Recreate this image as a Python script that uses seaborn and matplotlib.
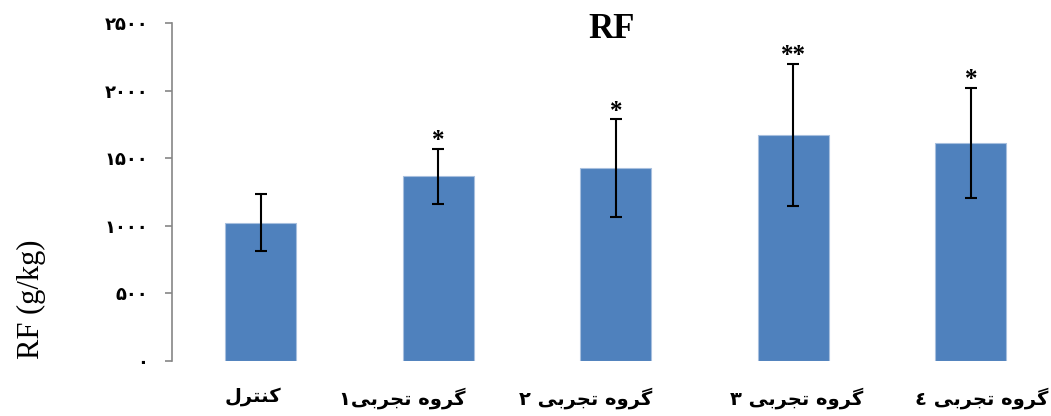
import matplotlib
matplotlib.use("Agg")

import pandas as pd
import matplotlib.pyplot as plt
import matplotlib.transforms as mtransforms
import seaborn as sns

# values
groups = ["کنترل", "گروه تجربی۱", "گروه تجربی ۲", "گروه تجربی ۳", "گروه تجربی ٤"]
rf_mean = [1022, 1366, 1427, 1672, 1613]
rf_sd = [211, 205, 361, 526, 408]
stars = ["", "*", "*", "**", "*"]
yticks = [0, 500, 1000, 1500, 2000, 2500]

# small offsets (pixels) of the category labels, as in the original
label_shift = [-8, -36, -30, 3, 11]

# --- minimal Persian shaping (matplotlib has no complex text layout) ---
FORMS = {  # isolated, final, initial, medial
    "ک": ("\uFB8E", "\uFB8F", "\uFB90", "\uFB91"),
    "گ": ("\uFB92", "\uFB93", "\uFB94", "\uFB95"),
    "ی": ("\uFBFC", "\uFBFD", "\uFBFE", "\uFBFF"),
    "ن": ("\uFEE5", "\uFEE6", "\uFEE7", "\uFEE8"),
    "ت": ("\uFE95", "\uFE96", "\uFE97", "\uFE98"),
    "ل": ("\uFEDD", "\uFEDE", "\uFEDF", "\uFEE0"),
    "ه": ("\uFEE9", "\uFEEA", "\uFEEB", "\uFEEC"),
    "ج": ("\uFE9D", "\uFE9E", "\uFE9F", "\uFEA0"),
    "ب": ("\uFE8F", "\uFE90", "\uFE91", "\uFE92"),
    "ر": ("\uFEAD", "\uFEAE", "\uFEAD", "\uFEAE"),
    "و": ("\uFEED", "\uFEEE", "\uFEED", "\uFEEE"),
}
RIGHT_ONLY = set("رو")


def shape_fa(text):
    out = []
    for i, ch in enumerate(text):
        if ch not in FORMS:
            out.append(ch)
            continue
        prev = text[i - 1] if i > 0 else ""
        nxt = text[i + 1] if i + 1 < len(text) else ""
        join_prev = prev in FORMS and prev not in RIGHT_ONLY
        join_next = nxt in FORMS and ch not in RIGHT_ONLY
        idx = {(False, False): 0, (True, False): 1,
               (False, True): 2, (True, True): 3}[(join_prev, join_next)]
        out.append(FORMS[ch][idx])
    return "".join(reversed(out))


def fa_digits(n):
    return str(n).translate(str.maketrans("0123456789", "۰۱۲۳۴۵۶۷۸۹"))


df = pd.DataFrame({"group": groups, "rf": rf_mean, "sd": rf_sd})

sns.set_style("white")
plt.rcParams["font.family"] = ["DejaVu Sans"]
plt.rcParams["text.color"] = "black"
plt.rcParams["xtick.labelcolor"] = "black"
plt.rcParams["ytick.labelcolor"] = "black"

fig = plt.figure(figsize=(10.51, 4.16), dpi=100)
ax = fig.add_axes([172 / 1051, 1 - 361 / 416, 887.5 / 1051, 338 / 416])

sns.barplot(data=df, x="group", y="rf", color="#4F81BD", saturation=1, width=0.4,
            edgecolor="#A7BFDE", linewidth=0.8, errorbar=None, ax=ax)
ax.errorbar(range(len(groups)), df["rf"], yerr=df["sd"], fmt="none",
            ecolor="black", elinewidth=1.5, capsize=4.5, capthick=1.5)

for i, (m, s, st) in enumerate(zip(rf_mean, rf_sd, stars)):
    if st:
        ax.annotate(st, (i, m + s), xytext=(0, 1), textcoords="offset points",
                    ha="center", va="baseline", fontsize=18,
                    family="Liberation Serif", fontweight="bold", color="black")

ax.set_xlim(-0.5, len(groups) - 0.5)
ax.set_ylim(0, 2500)
ax.set_yticks(yticks)
ax.set_yticklabels([fa_digits(t) for t in yticks], fontsize=13, fontweight="bold")
ax.set_xticks(range(len(groups)))
ax.set_xticklabels([shape_fa(g) for g in groups], fontsize=14, fontweight="bold")
ax.tick_params(axis="y", length=5, width=1.2, color="#868686", pad=12, direction="out", left=True)
ax.tick_params(axis="x", length=0, pad=19)
for lab, dx in zip(ax.get_xticklabels(), label_shift):
    lab.set_transform(lab.get_transform() + mtransforms.ScaledTranslation(dx / 100, 0, fig.dpi_scale_trans))

for side in ["top", "right", "bottom"]:
    ax.spines[side].set_visible(False)
ax.spines["left"].set_color("#868686")
ax.spines["left"].set_linewidth(1.2)
ax.set_xlabel("")
ax.set_ylabel("")

fig.text(612 / 1051, 1 - 29 / 416, "RF", ha="center", va="center",
         fontsize=25, fontweight="bold", family="Liberation Serif", color="black")
fig.text(31 / 1051, 1 - 299 / 416, "RF (g/kg)", ha="center", va="center",
         rotation=90, fontsize=22, family="Liberation Serif", color="black")

fig.savefig("out.png", dpi=100)
